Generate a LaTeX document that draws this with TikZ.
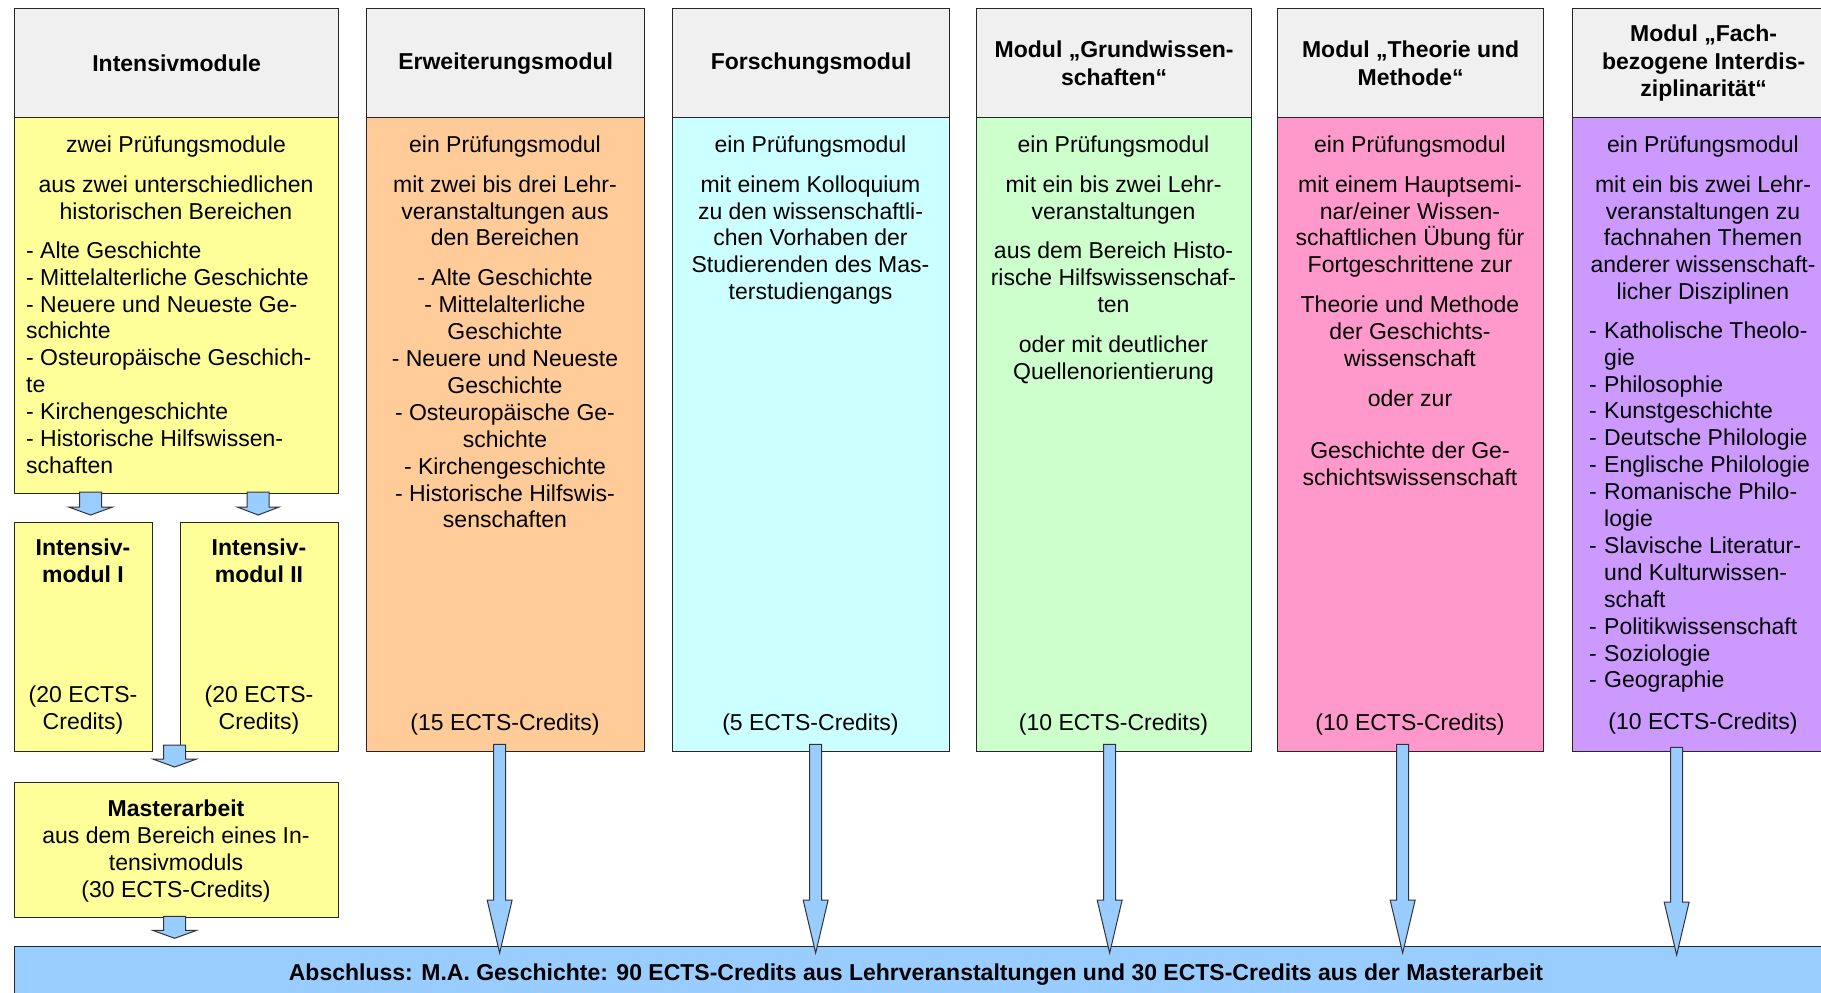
\documentclass[tikz,border=0pt]{standalone}
\usepackage{fontspec}
\setmainfont{Liberation Sans}
\usetikzlibrary{calc}
\definecolor{hdrgray}{HTML}{F0F0F0}
\definecolor{cyel}{HTML}{FFFF99}
\definecolor{corange}{HTML}{FFCC99}
\definecolor{ccyan}{HTML}{CCFFFF}
\definecolor{cgreen}{HTML}{CCFFCC}
\definecolor{cpink}{HTML}{FF99CC}
\definecolor{cpurple}{HTML}{CC99FF}
\definecolor{cblue}{HTML}{99CCFF}
\newcommand{\firststrut}{\rule{0pt}{18pt}}
\newcommand{\lidash}{\makebox[15pt][l]{-}}
\newcommand{\liind}{\hspace*{15pt}}
\tikzset{
  box/.style={draw=black!85, line width=1.3pt, inner sep=0pt, anchor=north west},
  hdr/.style={box, fill=hdrgray, minimum height=109pt, align=center,
    font=\bfseries\fontsize{23}{27.5}\selectfont},
  txt/.style={inner sep=0pt, align=center, anchor=north,
    font=\fontsize{23}{26.9}\selectfont},
  ltxt/.style={txt, align=left, anchor=north west},
  btxt/.style={txt, font=\bfseries\fontsize{23}{27}\selectfont},
  cred/.style={inner sep=0pt, anchor=base, font=\fontsize{23}{26.9}\selectfont},
  barrow/.style={draw=black!80, line width=1pt, fill=cblue, line join=miter},
}
% block arrow: start, end, shaft half width, head half width, head length
\newcommand{\blockarrow}[5]{%
  \draw[barrow] let \p1=(#1), \p2=(#2) in
    (\x1-#3,\y1) -- (\x1-#3,\y2+#5) -- (\x1-#4,\y2+#5) -- (\x1,\y2)
    -- (\x1+#4,\y2+#5) -- (\x1+#3,\y2+#5) -- (\x1+#3,\y1) -- cycle;}
\begin{document}
\begin{tikzpicture}[x=1pt,y=-1pt]
\useasboundingbox (0,0) rectangle (1821,993);
\clip (0,0) rectangle (1821,993);
\fill[white] (0,0) rectangle (1821,993);

% headers
\node[hdr, minimum width=324pt] (inth) at (14,8) {Intensivmodule};
\node[hdr, minimum width=278pt] (erwh) at (366,8) {Erweiterungsmodul};
\node[hdr, minimum width=277pt] (forsh) at (672,8) {Forschungsmodul};
\node[hdr, minimum width=275pt] (grundh) at (976,8) {Modul „Grundwissen-\\schaften“};
\node[hdr, minimum width=266pt] (theoh) at (1277,8) {Modul „Theorie und\\Methode“};
\node[hdr, minimum width=262pt] (fachh) at (1572,8) {Modul „Fach-\\bezogene Interdis-\\ziplinarität“};

% bodies
\node[box, fill=cyel, minimum width=324pt, minimum height=376pt] (intb) at (14,117) {};
\node[box, fill=corange, minimum width=278pt, minimum height=634pt] (erw) at (366,117) {};
\node[box, fill=ccyan, minimum width=277pt, minimum height=634pt] (fors) at (672,117) {};
\node[box, fill=cgreen, minimum width=275pt, minimum height=634pt] (grund) at (976,117) {};
\node[box, fill=cpink, minimum width=266pt, minimum height=634pt] (theo) at (1277,117) {};
\node[box, fill=cpurple, minimum width=262pt, minimum height=634pt] (fach) at (1572,117) {};

\node[box, fill=cyel, minimum width=138pt, minimum height=229pt] (i1) at (14,522) {};
\node[box, fill=cyel, minimum width=158pt, minimum height=229pt] (i2) at (180,522) {};
\node[box, fill=cyel, minimum width=324pt, minimum height=135pt] (ma) at (14,782) {};
\node[box, fill=cblue, minimum width=1840pt, minimum height=80pt] (absch) at (14,946) {};

% texts: Intensivmodule
\node[txt] (intt) at (176,134) {\firststrut zwei Prüfungsmodule\\[13pt]
  aus zwei unterschiedlichen\\historischen Bereichen};
\node[ltxt] (intl) at (26,240) {\firststrut- Alte Geschichte\\- Mittelalterliche Geschichte\\
  - Neuere und Neueste Ge-\\schichte\\- Osteuropäische Geschich-\\te\\
  - Kirchengeschichte\\- Historische Hilfswissen-\\schaften};

% Erweiterungsmodul
\node[txt] (erwt) at (505,134) {\firststrut ein Prüfungsmodul\\[13pt]
  mit zwei bis drei Lehr-\\veranstaltungen aus\\den Bereichen\\[13pt]
  - Alte Geschichte\\- Mittelalterliche\\Geschichte\\- Neuere und Neueste\\Geschichte\\
  - Osteuropäische Ge-\\schichte\\- Kirchengeschichte\\- Historische Hilfswis-\\senschaften};
\node[cred] (erwc) at (505,730) {(15 ECTS-Credits)};

% Forschungsmodul
\node[txt] (forst) at (810.5,134) {\firststrut ein Prüfungsmodul\\[13pt]
  mit einem Kolloquium\\zu den wissenschaftli-\\chen Vorhaben der\\
  Studierenden des Mas-\\terstudiengangs};
\node[cred] (forsc) at (810.5,730) {(5 ECTS-Credits)};

% Grundwissenschaften
\node[txt] (grundt) at (1113.5,134) {\firststrut ein Prüfungsmodul\\[13pt]
  mit ein bis zwei Lehr-\\veranstaltungen\\[13pt]
  aus dem Bereich Histo-\\rische Hilfswissenschaf-\\ten\\[13pt]
  oder mit deutlicher\\Quellenorientierung};
\node[cred] (grundc) at (1113.5,730) {(10 ECTS-Credits)};

% Theorie und Methode
\node[txt] (theot) at (1410,134) {\firststrut ein Prüfungsmodul\\[13pt]
  mit einem Hauptsemi-\\nar/einer Wissen-\\schaftlichen Übung für\\Fortgeschrittene zur\\[13pt]
  Theorie und Methode\\der Geschichts-\\wissenschaft\\[13pt]
  oder zur\\[25pt]
  Geschichte der Ge-\\schichtswissenschaft};
\node[cred] (theoc) at (1410,730) {(10 ECTS-Credits)};

% Fachbezogene Interdisziplinaritaet
\node[txt] (facht) at (1703,134) {\firststrut ein Prüfungsmodul\\[13pt]
  mit ein bis zwei Lehr-\\veranstaltungen zu\\fachnahen Themen\\
  anderer wissenschaft-\\licher Disziplinen};
\node[ltxt] (fachl) at (1589,320) {\firststrut\lidash Katholische Theolo-\\\liind gie\\
  \lidash Philosophie\\\lidash Kunstgeschichte\\\lidash Deutsche Philologie\\
  \lidash Englische Philologie\\\lidash Romanische Philo-\\\liind logie\\
  \lidash Slavische Literatur-\\\liind und Kulturwissen-\\\liind schaft\\
  \lidash Politikwissenschaft\\\lidash Soziologie\\\lidash Geographie};
\node[cred] (fachc) at (1703,729) {(10 ECTS-Credits)};

% Intensivmodul I / II
\node[btxt] (i1t) at (83,537) {\firststrut Intensiv-\\modul I};
\node[txt] (i1c) at (83,684) {\firststrut (20 ECTS-\\Credits)};
\node[btxt] (i2t) at (259,537) {\firststrut Intensiv-\\modul II};
\node[txt] (i2c) at (259,684) {\firststrut (20 ECTS-\\Credits)};

% Masterarbeit
\node[txt, font=\fontsize{23}{27}\selectfont] (mat) at (176,798) {\firststrut\textbf{Masterarbeit}\\
  aus dem Bereich eines In-\\tensivmoduls\\(30 ECTS-Credits)};

% Abschluss
\node[inner sep=0pt, anchor=base, font=\bfseries\fontsize{23}{27}\selectfont] (abscht) at (916,980)
  {Abschluss: M.A. Geschichte: 90 ECTS-Credits aus Lehrveranstaltungen und 30 ECTS-Credits aus der Masterarbeit};

% connector coordinates
\coordinate (s1a) at ($(i1.north)+(7,-30)$);
\coordinate (s1b) at ($(i1.north)+(7,-7)$);
\coordinate (s2a) at ($(i2.north)+(-1.5,-30)$);
\coordinate (s2b) at ($(i2.north)+(-1.5,-7)$);
\coordinate (s3a) at ($(ma.north)+(-2,-37)$);
\coordinate (s3b) at ($(ma.north)+(-2,-15)$);
\coordinate (s4a) at ($(ma.south)+(-2,-2)$);
\coordinate (s4b) at ($(ma.south)+(-2,20)$);

\coordinate (aEa) at ($(erw.south)+(-6,-8)$);
\coordinate (aEb) at ($(aEa |- absch.north)+(0,7)$);
\coordinate (aFa) at ($(fors.south)+(4.5,-8)$);
\coordinate (aFb) at ($(aFa |- absch.north)+(0,7)$);
\coordinate (aGa) at ($(grund.south)+(-4.5,-8)$);
\coordinate (aGb) at ($(aGa |- absch.north)+(0,7)$);
\coordinate (aTa) at ($(theo.south)+(-8,-8)$);
\coordinate (aTb) at ($(aTa |- absch.north)+(0,7)$);
\coordinate (aIa) at ($(fach.south)+(-27,-5)$);
\coordinate (aIb) at ($(aIa |- absch.north)+(0,9)$);

% small block arrows
\blockarrow{s1a}{s1b}{11}{22}{8}
\blockarrow{s2a}{s2b}{11}{21}{8}
\blockarrow{s3a}{s3b}{11}{22}{8}
\blockarrow{s4a}{s4b}{11}{22}{8}

% long block arrows
\blockarrow{aEa}{aEb}{6}{12.5}{53}
\blockarrow{aFa}{aFb}{6}{12.5}{53}
\blockarrow{aGa}{aGb}{6}{12.5}{53}
\blockarrow{aTa}{aTb}{6}{12.5}{53}
\blockarrow{aIa}{aIb}{6}{12.5}{53}
\end{tikzpicture}
\end{document}
